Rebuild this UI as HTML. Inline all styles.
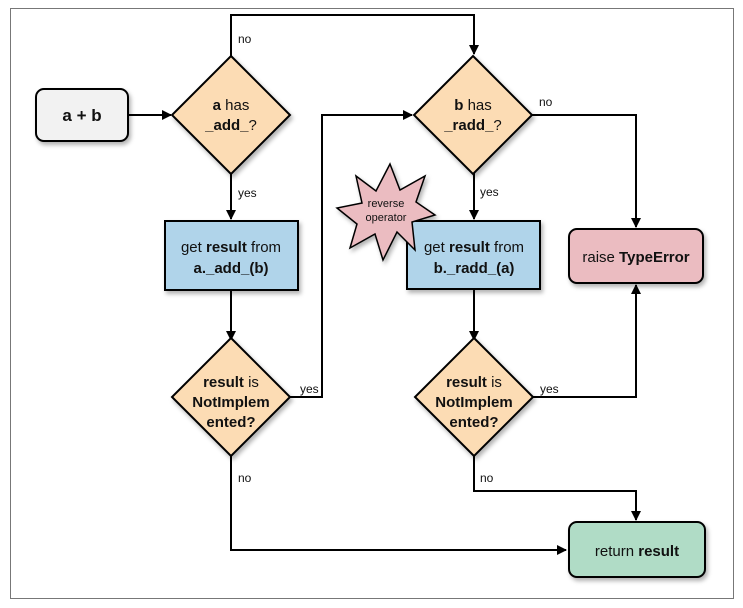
<!DOCTYPE html>
<html><head><meta charset="utf-8"><style>
html,body{margin:0;padding:0;background:#fff;}
svg{display:block;}
text{font-family:"Liberation Sans Narrow","Liberation Sans",sans-serif;fill:#111;}
.b{font-weight:bold;}
</style></head><body>
<svg width="743" height="608" viewBox="0 0 743 608" xmlns="http://www.w3.org/2000/svg">
<defs>
<marker id="ar" markerWidth="10" markerHeight="10" refX="9" refY="5" orient="auto" markerUnits="userSpaceOnUse">
<path d="M0,0 L10,5 L0,10 z" fill="#000"/></marker>
<filter id="sh" x="-20%" y="-20%" width="140%" height="140%"><feDropShadow dx="2" dy="3" stdDeviation="2" flood-color="#000" flood-opacity="0.3"/></filter>
</defs>
<rect x="10.5" y="8.5" width="723" height="590" fill="none" stroke="#777" stroke-width="1"/>
<g fill="none" stroke="#000" stroke-width="2">
<path d="M128,115 H171" marker-end="url(#ar)"/>
<path d="M231,56 V15 H474 V54" marker-end="url(#ar)"/>
<path d="M231,173 V219" marker-end="url(#ar)"/>
<path d="M231,290 V340" marker-end="url(#ar)"/>
<path d="M290,397 H322 V115 H412" marker-end="url(#ar)"/>
<path d="M474,173 V219" marker-end="url(#ar)"/>
<path d="M474,289 V340" marker-end="url(#ar)"/>
<path d="M532,115 H636 V227" marker-end="url(#ar)"/>
<path d="M533,397 H636 V285" marker-end="url(#ar)"/>
<path d="M231,456 V550 H566" marker-end="url(#ar)"/>
<path d="M474,456 V491 H636 V520" marker-end="url(#ar)"/>
</g>
<g stroke="#000" stroke-width="2" filter="url(#sh)">
<rect x="36" y="89" width="92" height="52" rx="8" fill="#f2f2f2"/>
<path d="M231,56 L290,115 L231,174 L172,115 Z" fill="#fcdcb4"/>
<path d="M473,56 L532,115 L473,174 L414,115 Z" fill="#fcdcb4"/>
<path d="M231,338 L290,397 L231,456 L172,397 Z" fill="#fcdcb4"/>
<path d="M474,338 L533,397 L474,456 L415,397 Z" fill="#fcdcb4"/>
<rect x="165" y="221" width="133" height="69" fill="#b0d4ea"/>
<rect x="407" y="221" width="133" height="68" fill="#b0d4ea"/>
<rect x="569" y="229" width="134" height="54" rx="8" fill="#ebbcc1"/>
<rect x="569" y="522" width="136" height="55" rx="8" fill="#b0dcc6"/>
<path d="M390,164 L400,190 L425,176 L416,202 L435,215 L412,222 L415,250 L397,232 L383,260 L375,234 L350,248 L357,224 L337,208 L362,203 L356,176 L376,191 Z" fill="#ebbcc1" stroke-width="1.5"/>
</g>
<text x="82" y="121" text-anchor="middle" font-size="17" class="b">a + b</text>
<g font-size="15" text-anchor="middle">
<text x="231" y="110"><tspan class="b">a</tspan> has</text>
<text x="231" y="130"><tspan class="b">_add_</tspan>?</text>
<text x="473" y="110"><tspan class="b">b</tspan> has</text>
<text x="473" y="130"><tspan class="b">_radd_</tspan>?</text>
<text x="231" y="252">get <tspan class="b">result</tspan> from</text>
<text x="231" y="273" class="b">a._add_(b)</text>
<text x="474" y="252">get <tspan class="b">result</tspan> from</text>
<text x="474" y="273" class="b">b._radd_(a)</text>
<text x="636" y="262">raise <tspan class="b">TypeError</tspan></text>
<text x="637" y="556">return <tspan class="b">result</tspan></text>
<text x="231" y="387"><tspan class="b">result</tspan> is</text>
<text x="231" y="407" class="b">NotImplem</text>
<text x="231" y="427" class="b">ented?</text>
<text x="474" y="387"><tspan class="b">result</tspan> is</text>
<text x="474" y="407" class="b">NotImplem</text>
<text x="474" y="427" class="b">ented?</text>
</g>
<text x="386" y="207" text-anchor="middle" font-size="11">reverse</text>
<text x="386" y="221" text-anchor="middle" font-size="11">operator</text>
<g font-size="12">
<text x="238" y="43">no</text>
<text x="238" y="197">yes</text>
<text x="539" y="106">no</text>
<text x="480" y="196">yes</text>
<text x="300" y="393">yes</text>
<text x="540" y="393">yes</text>
<text x="238" y="482">no</text>
<text x="480" y="482">no</text>
</g>
</svg>
</body></html>
